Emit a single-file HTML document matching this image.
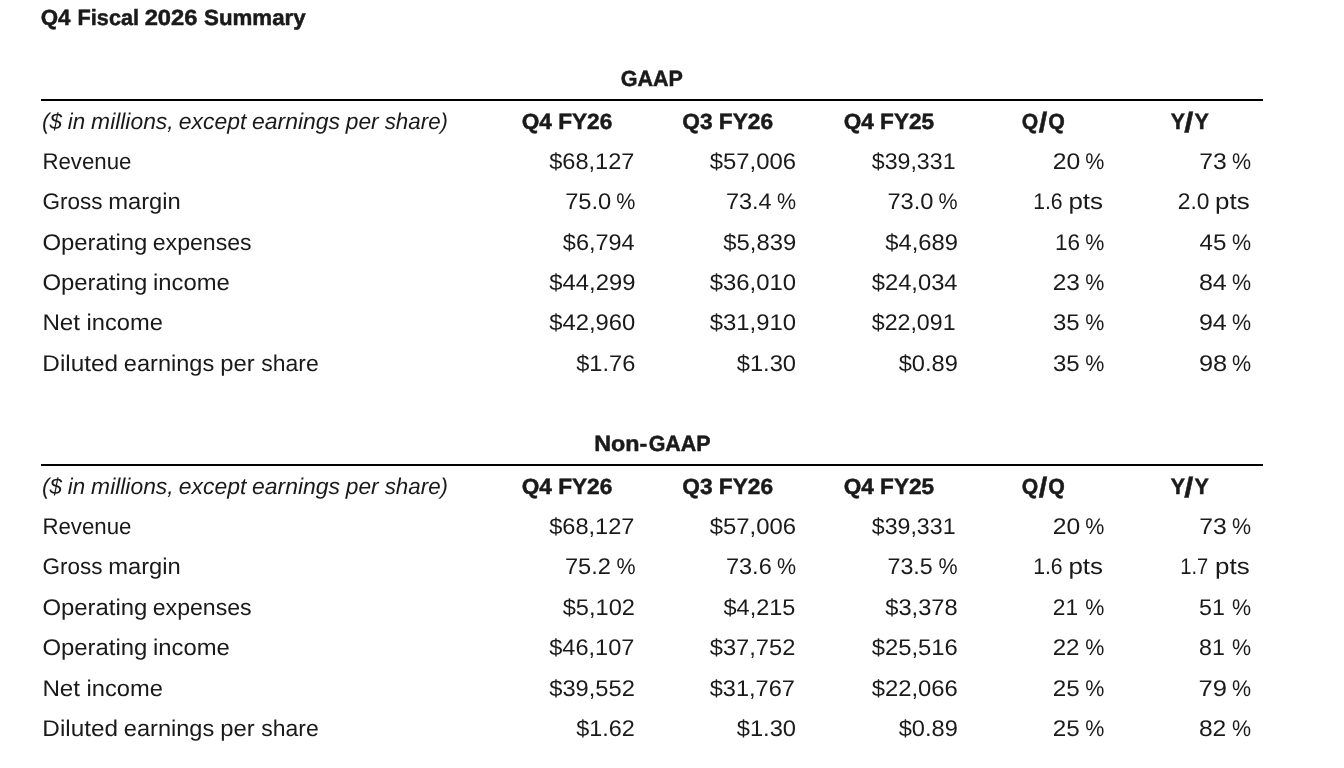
<!DOCTYPE html>
<html lang="en">
<head>
<meta charset="utf-8">
<title>Q4 Fiscal 2026 Summary</title>
<style>
html,body{margin:0;padding:0;background:#fff;}
body{width:1344px;height:768px;position:relative;overflow:hidden;font-family:"Liberation Sans",sans-serif;color:#1a1a1a;text-rendering:geometricPrecision;}
.t{position:absolute;left:0;top:0;white-space:nowrap;line-height:1;transform-origin:0 0;margin:0;padding:0;font-weight:400;font-style:normal;}
.ttl,.cap,.hd{font-weight:700;-webkit-text-stroke:0.5px #1a1a1a;}
.it{font-style:italic;}
.ttl{font-size:22.0px}.cap,.hd{font-size:22.0px}.it{font-size:22.7px}.lb{font-size:22.7px}.nm{font-size:22.7px}
h2,h3{margin:0;padding:0;font-size:inherit;font-weight:inherit;}
.rule{position:absolute;left:41px;width:1222px;height:2px;background:#000;}
</style>
</head>
<body>
<h2 class="c"><span class="t ttl" style="transform:translate(40.74px,7.00px) scaleX(1.0157)">Q4</span> <span class="t ttl" style="transform:translate(77.62px,7.00px) scaleX(0.9833)">Fiscal</span> <span class="t ttl" style="transform:translate(144.66px,7.00px) scaleX(1.0792)">2026</span> <span class="t ttl" style="transform:translate(204.00px,7.00px) scaleX(1.0140)">Summary</span></h2>
<section class="tbl">
<h3 class="t cap" style="transform:translate(620.77px,68.00px) scaleX(0.9783)">GAAP</h3>
<div class="rule" style="top:99px"></div>
<div class="row head">
<span class="c"><span class="t it" style="transform:translate(42.06px,110.00px) scaleX(0.9872)">($</span> <span class="t it" style="transform:translate(67.80px,110.00px) scaleX(0.9848)">in</span> <span class="t it" style="transform:translate(91.10px,110.00px) scaleX(1.0070)">millions,</span> <span class="t it" style="transform:translate(178.69px,110.00px) scaleX(1.0112)">except</span> <span class="t it" style="transform:translate(251.94px,110.00px) scaleX(1.0128)">earnings</span> <span class="t it" style="transform:translate(345.80px,110.00px) scaleX(1.0029)">per</span> <span class="t it" style="transform:translate(384.70px,110.00px) scaleX(0.9849)">share)</span></span>
<span class="t hd" style="transform:translate(521.63px,111.00px) scaleX(1.0294)">Q4 FY26</span>
<span class="t hd" style="transform:translate(682.23px,111.00px) scaleX(1.0317)">Q3 FY26</span>
<span class="t hd" style="transform:translate(843.73px,111.00px) scaleX(1.0259)">Q4 FY25</span>
<span class="c"><span class="t hd" style="transform:translate(1021.78px,111.00px) scaleX(0.9619)">Q</span><span class="t hd" style="font-size:28.0px;transform:translate(1038.80px,109.00px) scaleX(1.0903)">/</span><span class="t hd" style="transform:translate(1048.27px,111.00px) scaleX(0.9683)">Q</span></span>
<span class="c"><span class="t hd" style="transform:translate(1170.65px,111.00px) scaleX(0.9695)">Y</span><span class="t hd" style="font-size:28.0px;transform:translate(1184.30px,109.00px) scaleX(1.1613)">/</span><span class="t hd" style="transform:translate(1194.55px,111.00px) scaleX(0.9763)">Y</span></span>
</div>
<div class="row">
<span class="t lb" style="transform:translate(42.43px,150.00px) scaleX(0.9801)">Revenue</span>
<span class="t nm" style="transform:translate(549.24px,150.00px) scaleX(1.0390)">$68,127</span>
<span class="t nm" style="transform:translate(709.74px,150.00px) scaleX(1.0526)">$57,006</span>
<span class="t nm" style="transform:translate(871.74px,150.00px) scaleX(1.0217)">$39,331</span>
<span class="c"><span class="t nm" style="transform:translate(1052.66px,150.00px) scaleX(1.0872)">20</span> <span class="t nm" style="transform:translate(1085.29px,150.00px) scaleX(0.9467)">%</span></span>
<span class="c"><span class="t nm" style="transform:translate(1199.14px,150.00px) scaleX(1.0891)">73</span> <span class="t nm" style="transform:translate(1232.04px,150.00px) scaleX(0.9467)">%</span></span>
</div>
<div class="row">
<span class="c"><span class="t lb" style="transform:translate(42.41px,190.00px) scaleX(0.9923)">Gross</span> <span class="t lb" style="transform:translate(108.13px,190.00px) scaleX(1.0481)">margin</span></span>
<span class="c"><span class="t nm" style="transform:translate(565.20px,190.00px) scaleX(1.0429)">75.0</span> <span class="t nm" style="transform:translate(616.29px,190.00px) scaleX(0.9467)">%</span></span>
<span class="c"><span class="t nm" style="transform:translate(725.91px,190.00px) scaleX(1.0355)">73.4</span> <span class="t nm" style="transform:translate(777.04px,190.00px) scaleX(0.9467)">%</span></span>
<span class="c"><span class="t nm" style="transform:translate(887.45px,190.00px) scaleX(1.0429)">73.0</span> <span class="t nm" style="transform:translate(938.54px,190.00px) scaleX(0.9467)">%</span></span>
<span class="c"><span class="t nm" style="transform:translate(1033.17px,190.00px) scaleX(0.9339)">1.6</span> <span class="t nm" style="transform:translate(1068.39px,190.00px) scaleX(1.1429)">pts</span></span>
<span class="c"><span class="t nm" style="transform:translate(1177.75px,190.00px) scaleX(1.0017)">2.0</span> <span class="t nm" style="transform:translate(1215.04px,190.00px) scaleX(1.1429)">pts</span></span>
</div>
<div class="row">
<span class="c"><span class="t lb" style="transform:translate(42.40px,231.00px) scaleX(1.0535)">Operating</span> <span class="t lb" style="transform:translate(152.78px,231.00px) scaleX(1.0173)">expenses</span></span>
<span class="t nm" style="transform:translate(562.84px,231.00px) scaleX(1.0350)">$6,794</span>
<span class="t nm" style="transform:translate(723.34px,231.00px) scaleX(1.0500)">$5,839</span>
<span class="t nm" style="transform:translate(885.24px,231.00px) scaleX(1.0478)">$4,689</span>
<span class="c"><span class="t nm" style="transform:translate(1055.02px,231.00px) scaleX(0.9911)">16</span> <span class="t nm" style="transform:translate(1085.29px,231.00px) scaleX(0.9467)">%</span></span>
<span class="c"><span class="t nm" style="transform:translate(1199.47px,231.00px) scaleX(1.0653)">45</span> <span class="t nm" style="transform:translate(1232.04px,231.00px) scaleX(0.9467)">%</span></span>
</div>
<div class="row">
<span class="c"><span class="t lb" style="transform:translate(42.40px,271.00px) scaleX(1.0535)">Operating</span> <span class="t lb" style="transform:translate(153.03px,271.00px) scaleX(1.0495)">income</span></span>
<span class="t nm" style="transform:translate(549.34px,271.00px) scaleX(1.0502)">$44,299</span>
<span class="t nm" style="transform:translate(709.74px,271.00px) scaleX(1.0525)">$36,010</span>
<span class="t nm" style="transform:translate(871.74px,271.00px) scaleX(1.0463)">$24,034</span>
<span class="c"><span class="t nm" style="transform:translate(1052.67px,271.00px) scaleX(1.0774)">23</span> <span class="t nm" style="transform:translate(1085.29px,271.00px) scaleX(0.9467)">%</span></span>
<span class="c"><span class="t nm" style="transform:translate(1198.90px,271.00px) scaleX(1.1043)">84</span> <span class="t nm" style="transform:translate(1232.04px,271.00px) scaleX(0.9467)">%</span></span>
</div>
<div class="row">
<span class="c"><span class="t lb" style="transform:translate(42.38px,311.00px) scaleX(1.0672)">Net</span> <span class="t lb" style="transform:translate(86.48px,311.00px) scaleX(1.0438)">income</span></span>
<span class="t nm" style="transform:translate(549.24px,311.00px) scaleX(1.0494)">$42,960</span>
<span class="t nm" style="transform:translate(709.74px,311.00px) scaleX(1.0525)">$31,910</span>
<span class="t nm" style="transform:translate(871.74px,311.00px) scaleX(1.0217)">$22,091</span>
<span class="c"><span class="t nm" style="transform:translate(1052.96px,311.00px) scaleX(1.0553)">35</span> <span class="t nm" style="transform:translate(1085.29px,311.00px) scaleX(0.9467)">%</span></span>
<span class="c"><span class="t nm" style="transform:translate(1198.90px,311.00px) scaleX(1.1043)">94</span> <span class="t nm" style="transform:translate(1232.04px,311.00px) scaleX(0.9467)">%</span></span>
</div>
<div class="row">
<span class="c"><span class="t lb" style="transform:translate(42.37px,352.00px) scaleX(1.0719)">Diluted</span> <span class="t lb" style="transform:translate(123.81px,352.00px) scaleX(1.0393)">earnings</span> <span class="t lb" style="transform:translate(220.18px,352.00px) scaleX(1.0500)">per</span> <span class="t lb" style="transform:translate(261.29px,352.00px) scaleX(1.0118)">share</span></span>
<span class="t nm" style="transform:translate(576.24px,352.00px) scaleX(1.0405)">$1.76</span>
<span class="t nm" style="transform:translate(736.74px,352.00px) scaleX(1.0448)">$1.30</span>
<span class="t nm" style="transform:translate(898.74px,352.00px) scaleX(1.0405)">$0.89</span>
<span class="c"><span class="t nm" style="transform:translate(1052.96px,352.00px) scaleX(1.0553)">35</span> <span class="t nm" style="transform:translate(1085.29px,352.00px) scaleX(0.9467)">%</span></span>
<span class="c"><span class="t nm" style="transform:translate(1198.88px,352.00px) scaleX(1.1204)">98</span> <span class="t nm" style="transform:translate(1232.04px,352.00px) scaleX(0.9467)">%</span></span>
</div>
</section>
<section class="tbl">
<h3 class="c"><span class="t cap" style="transform:translate(594.28px,433.00px) scaleX(1.0591)">Non-</span><span class="t cap" style="transform:translate(648.67px,433.00px) scaleX(0.9735)">GAAP</span></h3>
<div class="rule" style="top:464px"></div>
<div class="row head">
<span class="c"><span class="t it" style="transform:translate(42.06px,475.00px) scaleX(0.9872)">($</span> <span class="t it" style="transform:translate(67.80px,475.00px) scaleX(0.9848)">in</span> <span class="t it" style="transform:translate(91.10px,475.00px) scaleX(1.0070)">millions,</span> <span class="t it" style="transform:translate(178.69px,475.00px) scaleX(1.0112)">except</span> <span class="t it" style="transform:translate(251.94px,475.00px) scaleX(1.0128)">earnings</span> <span class="t it" style="transform:translate(345.80px,475.00px) scaleX(1.0029)">per</span> <span class="t it" style="transform:translate(384.70px,475.00px) scaleX(0.9849)">share)</span></span>
<span class="t hd" style="transform:translate(521.63px,476.00px) scaleX(1.0294)">Q4 FY26</span>
<span class="t hd" style="transform:translate(682.23px,476.00px) scaleX(1.0317)">Q3 FY26</span>
<span class="t hd" style="transform:translate(843.73px,476.00px) scaleX(1.0259)">Q4 FY25</span>
<span class="c"><span class="t hd" style="transform:translate(1021.78px,476.00px) scaleX(0.9619)">Q</span><span class="t hd" style="font-size:28.0px;transform:translate(1038.80px,474.00px) scaleX(1.0903)">/</span><span class="t hd" style="transform:translate(1048.27px,476.00px) scaleX(0.9683)">Q</span></span>
<span class="c"><span class="t hd" style="transform:translate(1170.65px,476.00px) scaleX(0.9695)">Y</span><span class="t hd" style="font-size:28.0px;transform:translate(1184.30px,474.00px) scaleX(1.1613)">/</span><span class="t hd" style="transform:translate(1194.55px,476.00px) scaleX(0.9763)">Y</span></span>
</div>
<div class="row">
<span class="t lb" style="transform:translate(42.43px,515.00px) scaleX(0.9801)">Revenue</span>
<span class="t nm" style="transform:translate(549.24px,515.00px) scaleX(1.0390)">$68,127</span>
<span class="t nm" style="transform:translate(709.74px,515.00px) scaleX(1.0526)">$57,006</span>
<span class="t nm" style="transform:translate(871.74px,515.00px) scaleX(1.0217)">$39,331</span>
<span class="c"><span class="t nm" style="transform:translate(1052.66px,515.00px) scaleX(1.0872)">20</span> <span class="t nm" style="transform:translate(1085.29px,515.00px) scaleX(0.9467)">%</span></span>
<span class="c"><span class="t nm" style="transform:translate(1199.14px,515.00px) scaleX(1.0891)">73</span> <span class="t nm" style="transform:translate(1232.04px,515.00px) scaleX(0.9467)">%</span></span>
</div>
<div class="row">
<span class="c"><span class="t lb" style="transform:translate(42.41px,555.00px) scaleX(0.9923)">Gross</span> <span class="t lb" style="transform:translate(108.13px,555.00px) scaleX(1.0481)">margin</span></span>
<span class="c"><span class="t nm" style="transform:translate(564.95px,555.00px) scaleX(1.0407)">75.2</span> <span class="t nm" style="transform:translate(616.54px,555.00px) scaleX(0.9467)">%</span></span>
<span class="c"><span class="t nm" style="transform:translate(725.90px,555.00px) scaleX(1.0381)">73.6</span> <span class="t nm" style="transform:translate(777.04px,555.00px) scaleX(0.9467)">%</span></span>
<span class="c"><span class="t nm" style="transform:translate(887.47px,555.00px) scaleX(1.0250)">73.5</span> <span class="t nm" style="transform:translate(938.54px,555.00px) scaleX(0.9467)">%</span></span>
<span class="c"><span class="t nm" style="transform:translate(1033.17px,555.00px) scaleX(0.9339)">1.6</span> <span class="t nm" style="transform:translate(1068.39px,555.00px) scaleX(1.1429)">pts</span></span>
<span class="c"><span class="t nm" style="transform:translate(1180.20px,555.00px) scaleX(0.8870)">1.7</span> <span class="t nm" style="transform:translate(1215.04px,555.00px) scaleX(1.1429)">pts</span></span>
</div>
<div class="row">
<span class="c"><span class="t lb" style="transform:translate(42.40px,596.00px) scaleX(1.0535)">Operating</span> <span class="t lb" style="transform:translate(152.78px,596.00px) scaleX(1.0173)">expenses</span></span>
<span class="t nm" style="transform:translate(562.74px,596.00px) scaleX(1.0404)">$5,102</span>
<span class="t nm" style="transform:translate(723.49px,596.00px) scaleX(1.0366)">$4,215</span>
<span class="t nm" style="transform:translate(885.24px,596.00px) scaleX(1.0440)">$3,378</span>
<span class="c"><span class="t nm" style="transform:translate(1052.75px,596.00px) scaleX(1.0022)">21</span> <span class="t nm" style="transform:translate(1085.29px,596.00px) scaleX(0.9467)">%</span></span>
<span class="c"><span class="t nm" style="transform:translate(1198.98px,596.00px) scaleX(1.0237)">51</span> <span class="t nm" style="transform:translate(1232.04px,596.00px) scaleX(0.9467)">%</span></span>
</div>
<div class="row">
<span class="c"><span class="t lb" style="transform:translate(42.40px,636.00px) scaleX(1.0535)">Operating</span> <span class="t lb" style="transform:translate(153.03px,636.00px) scaleX(1.0495)">income</span></span>
<span class="t nm" style="transform:translate(549.24px,636.00px) scaleX(1.0372)">$46,107</span>
<span class="t nm" style="transform:translate(709.74px,636.00px) scaleX(1.0433)">$37,752</span>
<span class="t nm" style="transform:translate(871.74px,636.00px) scaleX(1.0495)">$25,516</span>
<span class="c"><span class="t nm" style="transform:translate(1052.69px,636.00px) scaleX(1.0624)">22</span> <span class="t nm" style="transform:translate(1085.29px,636.00px) scaleX(0.9467)">%</span></span>
<span class="c"><span class="t nm" style="transform:translate(1198.98px,636.00px) scaleX(1.0237)">81</span> <span class="t nm" style="transform:translate(1232.04px,636.00px) scaleX(0.9467)">%</span></span>
</div>
<div class="row">
<span class="c"><span class="t lb" style="transform:translate(42.38px,677.00px) scaleX(1.0672)">Net</span> <span class="t lb" style="transform:translate(86.48px,677.00px) scaleX(1.0438)">income</span></span>
<span class="t nm" style="transform:translate(549.24px,677.00px) scaleX(1.0433)">$39,552</span>
<span class="t nm" style="transform:translate(709.74px,677.00px) scaleX(1.0372)">$31,767</span>
<span class="t nm" style="transform:translate(871.74px,677.00px) scaleX(1.0495)">$22,066</span>
<span class="c"><span class="t nm" style="transform:translate(1052.68px,677.00px) scaleX(1.0667)">25</span> <span class="t nm" style="transform:translate(1085.29px,677.00px) scaleX(0.9467)">%</span></span>
<span class="c"><span class="t nm" style="transform:translate(1198.59px,677.00px) scaleX(1.1283)">79</span> <span class="t nm" style="transform:translate(1232.04px,677.00px) scaleX(0.9467)">%</span></span>
</div>
<div class="row">
<span class="c"><span class="t lb" style="transform:translate(42.37px,717.00px) scaleX(1.0719)">Diluted</span> <span class="t lb" style="transform:translate(123.81px,717.00px) scaleX(1.0393)">earnings</span> <span class="t lb" style="transform:translate(220.18px,717.00px) scaleX(1.0500)">per</span> <span class="t lb" style="transform:translate(261.29px,717.00px) scaleX(1.0118)">share</span></span>
<span class="t nm" style="transform:translate(576.24px,717.00px) scaleX(1.0315)">$1.62</span>
<span class="t nm" style="transform:translate(736.74px,717.00px) scaleX(1.0448)">$1.30</span>
<span class="t nm" style="transform:translate(898.74px,717.00px) scaleX(1.0405)">$0.89</span>
<span class="c"><span class="t nm" style="transform:translate(1052.68px,717.00px) scaleX(1.0667)">25</span> <span class="t nm" style="transform:translate(1085.29px,717.00px) scaleX(0.9467)">%</span></span>
<span class="c"><span class="t nm" style="transform:translate(1198.92px,717.00px) scaleX(1.0839)">82</span> <span class="t nm" style="transform:translate(1232.04px,717.00px) scaleX(0.9467)">%</span></span>
</div>
</section>
</body>
</html>
